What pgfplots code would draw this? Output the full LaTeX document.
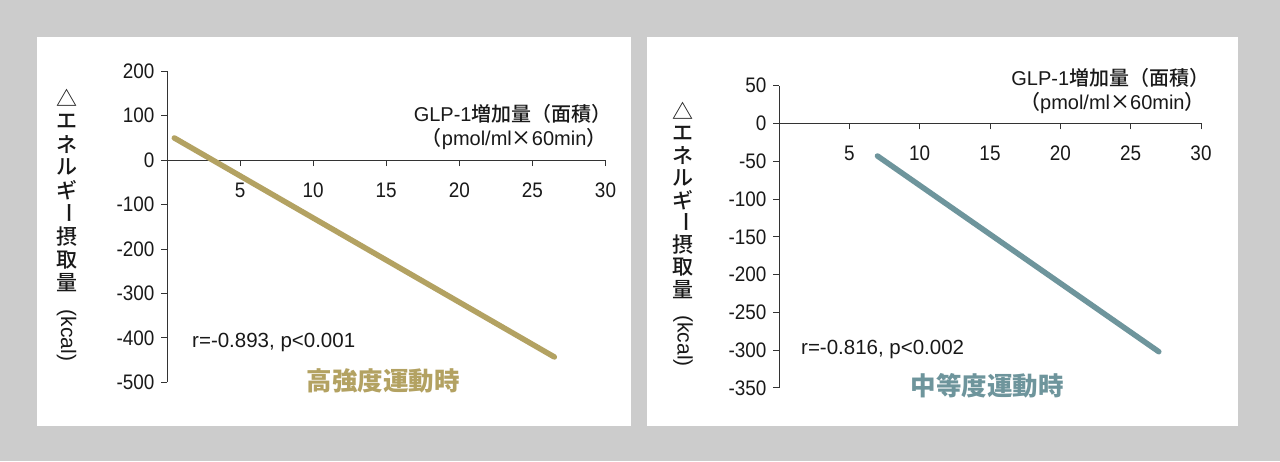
\documentclass[border=0pt]{standalone}
\usepackage{fontspec}
\setmainfont{Liberation Sans}
\newfontfamily\jp{Noto Sans CJK JP}
\newfontfamily\jpm{Noto Sans CJK JP Medium}
\newfontfamily\tickf{Liberation Sans}[FakeStretch=0.9]
\usepackage{pgfplots}
\pgfplotsset{compat=1.18}
\definecolor{bgc}{HTML}{CCCCCC}
\definecolor{goldc}{HTML}{B3A262}
\definecolor{tealc}{HTML}{6E959C}
\definecolor{axc}{HTML}{333333}
\pgfplotsset{myax/.style={
  scale only axis, xmin=0, xmax=30,
  axis y line=left, axis x line=middle,
  axis line style={-, line width=1pt, axc},
  tick style={line width=1pt, axc},
  major tick length=6pt, tick align=outside,
  xtick={5,10,...,30},
  hide obscured x ticks=false, hide obscured y ticks=false,
  ticklabel style={font=\tickf\fontsize{21}{21}\selectfont, text=black!90},
  /pgf/number format/assume math mode=true,
  xticklabel style={yshift=-13pt},
  yticklabel style={xshift=-3pt},
  clip=false, enlargelimits=false}}
\begin{document}
\begin{tikzpicture}[x=1pt,y=1pt]
\fill[bgc] (0,0) rectangle (1280,461);
\fill[white] (37,35) rectangle (631,424);
\fill[white] (647,35) rectangle (1238,424);
% left y label
\foreach \c [count=\i from 0] in {△,エ,ネ,ル,ギ,\rotatebox{-90}{ー},摂,取,量}
  \node[font=\jpm\fontsize{21}{21}\selectfont, inner sep=0pt, text=black!90] at (66.5, 363-\i*23.1) {\c};
\node[font=\fontsize{21}{21}\selectfont, rotate=-90, inner sep=0pt, text=black!90] at (66.5, 125.5) {(kcal)};
% right y label
\foreach \c [count=\i from 0] in {△,エ,ネ,ル,ギ,\rotatebox{-90}{ー},摂,取,量}
  \node[font=\jpm\fontsize{21}{21}\selectfont, inner sep=0pt, text=black!90] at (683, 350-\i*22.3) {\c};
\node[font=\fontsize{21}{21}\selectfont, rotate=-90, inner sep=0pt, text=black!90] at (683, 120) {(kcal)};

\begin{axis}[myax, at={(167pt,78.7pt)}, anchor=south west,
  width=438.5pt, height=311pt, ymin=-500, ymax=200,
  ytick={-500,-400,...,200}]
\addplot[goldc, line width=5.5pt, line cap=round] coordinates {(0.5,50) (26.5,-443)};
\node[font=\fontsize{20}{20}\selectfont, text=black!90] at (axis cs:23.65,104) {GLP-1{\jpm 増加量（面積）}};
\node[font=\fontsize{20}{20}\selectfont, text=black!90] at (axis cs:23.75,48) {{\jpm （}pmol/ml{\jpm ×}60min{\jpm ）}};
\node[font=\fontsize{20.5}{20.5}\selectfont, text=black!90] at (axis cs:7.3,-410) {r=-0.893, p<0.001};
\node[font=\jp\bfseries\fontsize{25.5}{25.5}\selectfont, text=goldc] at (axis cs:14.8,-497) {高強度運動時};
\end{axis}

\begin{axis}[myax, at={(779pt,73pt)}, anchor=south west,
  width=422pt, height=302.3pt, ymin=-350, ymax=50,
  ytick={-350,-300,...,50}]
\addplot[tealc, line width=5.5pt, line cap=round] coordinates {(7,-43) (27,-302)};
\node[font=\fontsize{20}{20}\selectfont, text=black!90] at (axis cs:23.55,60) {GLP-1{\jpm 増加量（面積）}};
\node[font=\fontsize{20}{20}\selectfont, text=black!90] at (axis cs:23.7,27) {{\jpm （}pmol/ml{\jpm ×}60min{\jpm ）}};
\node[font=\fontsize{20.5}{20.5}\selectfont, text=black!90] at (axis cs:7.37,-299) {r=-0.816, p<0.002};
\node[font=\jp\bfseries\fontsize{25.5}{25.5}\selectfont, text=tealc] at (axis cs:14.8,-347) {中等度運動時};
\end{axis}
\end{tikzpicture}
\end{document}
